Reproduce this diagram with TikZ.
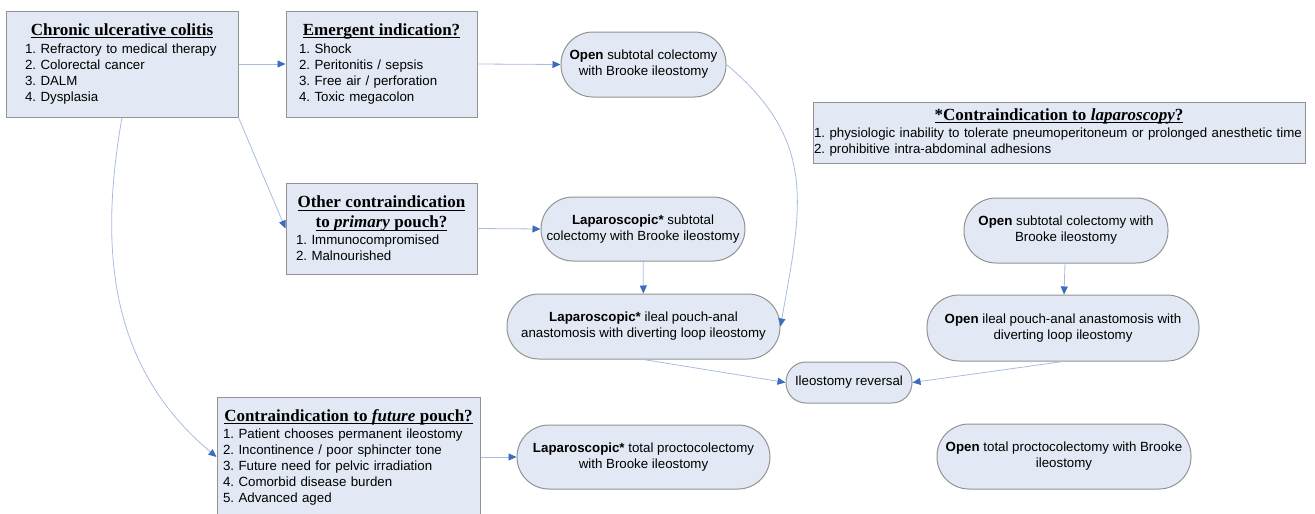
\documentclass[tikz,border=0pt]{standalone}
\usepackage{fontspec}
\setmainfont{Liberation Sans}
\newfontfamily\titleserif{Liberation Serif}
\usetikzlibrary{arrows.meta}
\frenchspacing

\definecolor{boxfill}{HTML}{E3E9F4}
\definecolor{boxline}{HTML}{939393}
\definecolor{linkline}{HTML}{A9BCE0}
\definecolor{tipblue}{HTML}{3B6DBF}

\newcommand{\ttlrule}[1]{\vtop{\hbox{\raisebox{0pt}[\height][0pt]{#1}}\kern1.8pt\hrule height 0.8pt}}
\newcommand{\boxtitle}[1]{\noindent\makebox[\hsize]{\titleserif\fontsize{17}{19}\selectfont\bfseries\ttlrule{#1}}}

\begin{document}
\begin{tikzpicture}[x=1pt,y=1pt,
  infobox/.style={draw=boxline, fill=boxfill, line width=1pt, align=left, inner ysep=2pt, font=\fontsize{13.3}{16}\selectfont},
  pill/.style={draw=boxline, fill=boxfill, line width=1pt, rounded corners=32pt, align=center, inner xsep=2pt, inner ysep=2pt, font=\fontsize{13.3}{16}\selectfont},
  flow/.style={draw=linkline, line width=0.8pt, -{Triangle[length=8pt,width=7pt,color=tipblue]}}]
\useasboundingbox (0,0) rectangle (1315,-514);

% question boxes
\node[infobox, minimum width=232pt, minimum height=106pt, text width=194pt, inner xsep=19pt] (cuc) at (122,-64)
  {\boxtitle{Chronic ulcerative colitis}\\[2pt] 1. Refractory to medical therapy\\ 2. Colorectal cancer\\ 3. DALM\\ 4. Dysplasia};
\node[infobox, minimum width=191pt, minimum height=106pt, text width=165pt, inner xsep=13pt] (emerg) at (381.5,-64)
  {\boxtitle{Emergent indication?}\\[2pt] 1. Shock\\ 2. Peritonitis / sepsis\\ 3. Free air / perforation\\ 4. Toxic megacolon};
\node[infobox, minimum width=191pt, minimum height=91pt, text width=171pt, inner xsep=10pt] (other) at (381.5,-228.5)
  {\boxtitle{Other contraindication}\\[4pt] \boxtitle{to \textit{primary} pouch?}\\[1pt] 1. Immunocompromised\\ 2. Malnourished};
\node[infobox, minimum width=263pt, minimum height=120pt, text width=251pt, inner xsep=6pt] (future) at (348.5,-457)
  {\boxtitle{Contraindication to \textit{future} pouch?}\\[1pt] 1. Patient chooses permanent ileostomy\\ 2. Incontinence / poor sphincter tone\\ 3. Future need for pelvic irradiation\\ 4. Comorbid disease burden\\ 5. Advanced aged};
\node[infobox, minimum width=492pt, minimum height=61pt, text width=490pt, inner xsep=1pt] (lapci) at (1059,-132.5)
  {\boxtitle{*Contraindication to \textit{laparoscopy}?}\\[1pt] \mbox{1. physiologic inability to tolerate pneumoperitoneum or prolonged anesthetic time}\\ 2. prohibitive intra-abdominal adhesions};

% operations
\node[pill, minimum width=165pt, minimum height=65pt] (osubA) at (643.5,-64.5) {\textbf{Open} subtotal colectomy\\with Brooke ileostomy};
\node[pill, minimum width=204pt, minimum height=64pt] (lsub) at (643,-229) {\textbf{Laparoscopic*} subtotal\\colectomy with Brooke ileostomy};
\node[pill, minimum width=273pt, minimum height=65pt] (lipaa) at (643.5,-326.5) {\textbf{Laparoscopic*} ileal pouch-anal\\anastomosis with diverting loop ileostomy};
\node[pill, minimum width=253pt, minimum height=64pt] (ltot) at (643.5,-457) {\textbf{Laparoscopic*} total proctocolectomy\\with Brooke ileostomy};
\node[pill, minimum width=204pt, minimum height=65pt] (osubB) at (1066,-230.5) {\textbf{Open} subtotal colectomy with\\Brooke ileostomy};
\node[pill, minimum width=272pt, minimum height=66pt] (oipaa) at (1063,-328) {\textbf{Open} ileal pouch-anal anastomosis with\\diverting loop ileostomy};
\node[pill, minimum width=254pt, minimum height=65pt] (otot) at (1064,-456.5) {\textbf{Open} total proctocolectomy with Brooke\\ileostomy};
\node[pill, rounded corners=20pt, minimum width=126pt, minimum height=41pt] (reversal) at (849,-382.5) {Ileostomy reversal};

% connectors
\draw[flow] (cuc.east) -- (emerg.west);
\draw[flow] (emerg.east) -- (osubA.west);
\draw[flow] (cuc.south east) -- (other.west);
\draw[flow] (cuc.south) to[out=-100, in=140] (future.west);
\draw[flow] (osubA.east) to[out=-40, in=80, looseness=1.15] (lipaa.east);
\draw[flow] (other.east) -- (lsub.west);
\draw[flow] (lsub) -- (lipaa);
\draw[flow] (future.east) -- (ltot.west);
\draw[flow] (osubB) -- (oipaa);
\draw[flow] (lipaa.south) -- (reversal.west);
\draw[flow] (oipaa.south) -- (reversal.east);
\end{tikzpicture}
\end{document}
